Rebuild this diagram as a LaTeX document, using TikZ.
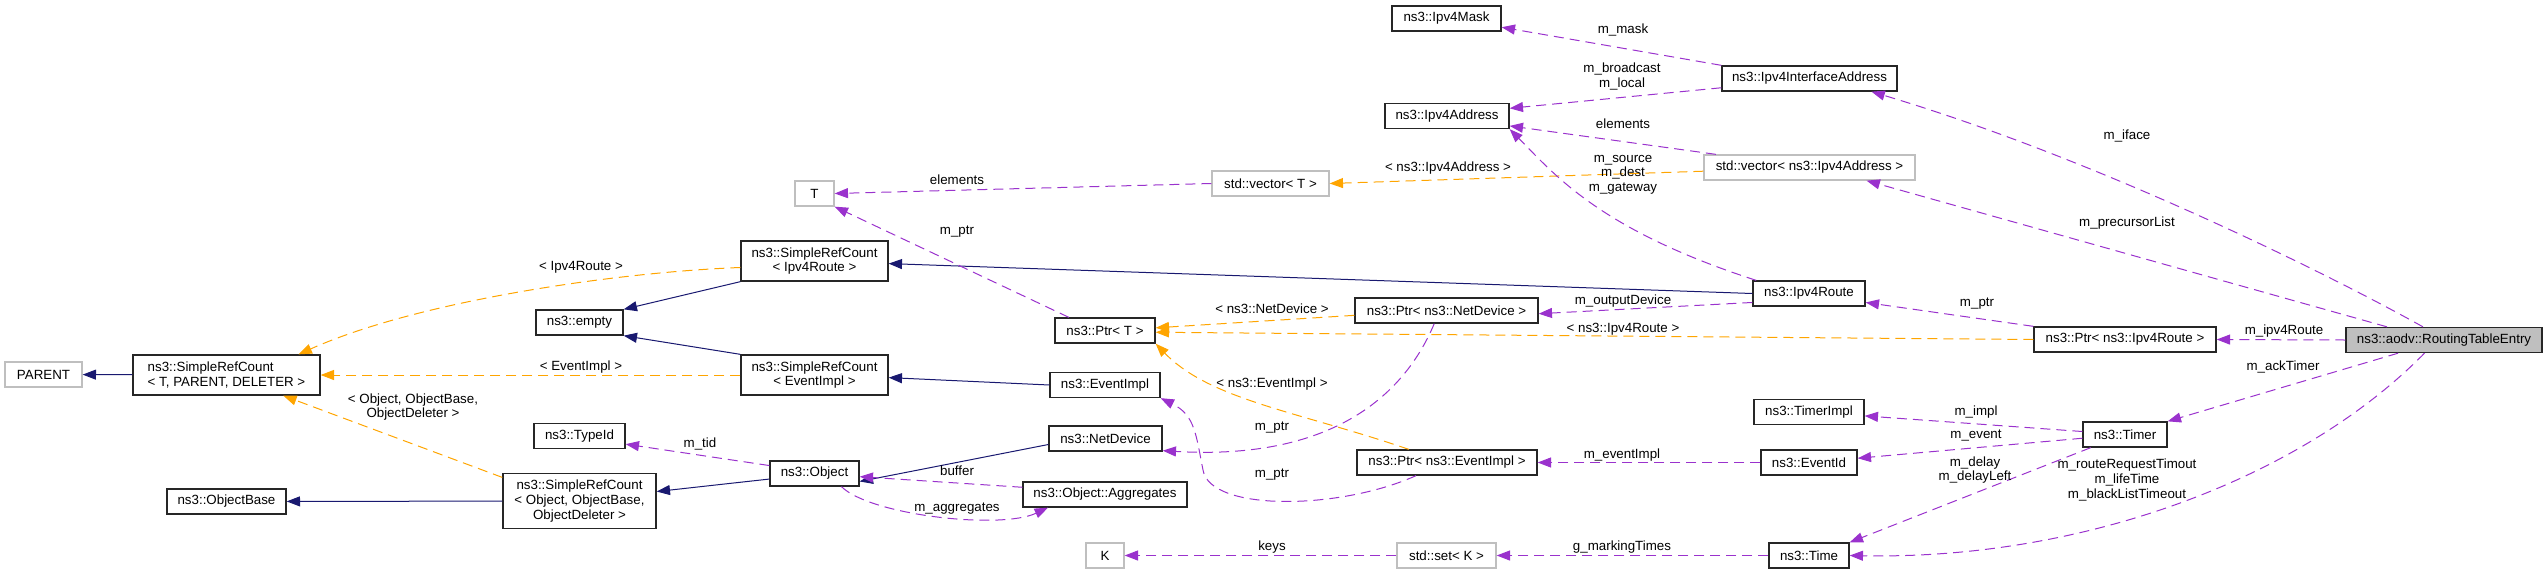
\documentclass[tikz,border=0pt]{standalone}
\usepackage{fontspec}
\setmainfont{Liberation Sans}
\usetikzlibrary{calc,arrows.meta}
\definecolor{inhcol}{HTML}{191970}
\definecolor{tplcol}{HTML}{FFA500}
\definecolor{usecol}{HTML}{9A32CD}
\definecolor{extcol}{HTML}{BFBFBF}
\tikzset{ cls/.style = { rectangle % documented class
        , draw = black!85
        , line width = 1pt
        , inner sep = 0pt
        , minimum height = 18.75pt
        , font = \fontsize{10}{11}\selectfont
        , align = center
        }
        , ext/.style = { cls % undocumented class
        , draw = extcol
        }
        , lbl/.style = { rectangle % edge label
        , inner sep = 0pt
        , font = \fontsize{10}{11}\selectfont
        , align = center
        }
        }

\begin{document}
\begin{tikzpicture}[x=0.75pt, y=-0.75pt, line width=0.75pt,
        inherit_edge_style/.style={draw=inhcol, -{Triangle[length=10pt,width=7.5pt]}},
        template_edge_style/.style={draw=tplcol, dash pattern=on 7.5pt off 4.5pt, -{Triangle[length=10pt,width=7.5pt]}},
        usage_edge_style/.style={draw=usecol, dash pattern=on 7.5pt off 4.5pt, -{Triangle[length=10pt,width=7.5pt]}}]
        \useasboundingbox (0,0) rectangle (2547,575);

        \node [ext, minimum width=57.75pt] (parent) at (43.5,374.5) {PARENT};
        \node [cls, minimum width=140.25pt, minimum height=30pt, align=left] (srcT) at (226.5,375) {ns3::SimpleRefCount\\< T, PARENT, DELETER >};
        \node [cls, minimum width=89.25pt] (objbase) at (226.5,501.5) {ns3::ObjectBase};
        \node [ext, minimum width=29.25pt] (tparam) at (814.5,193.5) {T};
        \node [cls, minimum width=110.25pt, minimum height=30pt] (srcRoute) at (814.5,261) {ns3::SimpleRefCount\\< Ipv4Route >};
        \node [cls, minimum width=65.25pt] (empty) at (579.5,322.5) {ns3::empty};
        \node [cls, minimum width=110.25pt, minimum height=30pt] (srcEvent) at (814.5,375) {ns3::SimpleRefCount\\< EventImpl >};
        \node [cls, minimum width=68.25pt] (typeid) at (579.5,436) {ns3::TypeId};
        \node [cls, minimum width=66.75pt] (object) at (814.5,473.5) {ns3::Object};
        \node [cls, minimum width=114.75pt, minimum height=41.25pt] (srcObj) at (579.5,501) {ns3::SimpleRefCount\\< Object, ObjectBase,\\ObjectDeleter >};
        \node [cls, minimum width=81.75pt] (mask) at (1446.5,18.5) {ns3::Ipv4Mask};
        \node [cls, minimum width=93pt] (addr) at (1447,116) {ns3::Ipv4Address};
        \node [ext, minimum width=87.75pt] (vecT) at (1270.5,183.5) {std::vector< T >};
        \node [cls, minimum width=75pt] (ptrT) at (1105,330.5) {ns3::Ptr< T >};
        \node [cls, minimum width=137.25pt] (ptrDev) at (1446.5,310.5) {ns3::Ptr< ns3::NetDevice >};
        \node [cls, minimum width=82.5pt] (evImpl) at (1105,385) {ns3::EventImpl};
        \node [cls, minimum width=84.75pt] (netdev) at (1105.5,438.5) {ns3::NetDevice};
        \node [cls, minimum width=123pt] (aggr) at (1105,494.5) {ns3::Object::Aggregates};
        \node [cls, minimum width=135pt] (ptrEv) at (1447,462.5) {ns3::Ptr< ns3::EventImpl >};
        \node [ext, minimum width=28.5pt] (kparam) at (1105,555.5) {K};
        \node [ext, minimum width=74.25pt] (setK) at (1446.5,555.5) {std::set< K >};
        \node [cls, minimum width=131.25pt] (ifaddr) at (1809.5,78.5) {ns3::Ipv4InterfaceAddress};
        \node [ext, minimum width=158.25pt] (vecAddr) at (1809.5,167.5) {std::vector< ns3::Ipv4Address >};
        \node [cls, minimum width=84pt] (route) at (1809,293.5) {ns3::Ipv4Route};
        \node [cls, minimum width=82.5pt] (timerImpl) at (1809,412) {ns3::TimerImpl};
        \node [cls, minimum width=72pt] (eventId) at (1809,462.5) {ns3::EventId};
        \node [cls, minimum width=60pt] (time) at (1809,555.5) {ns3::Time};
        \node [cls, minimum width=136.5pt] (ptrRoute) at (2125,339.5) {ns3::Ptr< ns3::Ipv4Route >};
        \node [cls, fill=extcol, minimum width=147pt] (entry) at (2444,340) {ns3::aodv::RoutingTableEntry};
        \node [cls, minimum width=63pt] (timer) at (2125,434.5) {ns3::Timer};

        % base classes
        \draw [inherit_edge_style] (srcT) -- (parent);
        \draw [inherit_edge_style] (srcObj) -- (objbase);
        \draw [inherit_edge_style] (srcRoute.south west) -- (empty.north east);
        \draw [inherit_edge_style] (srcEvent.north west) -- (empty.south east);
        \draw [inherit_edge_style] (object.187) -- (srcObj.7);
        \draw [inherit_edge_style] (netdev.186) -- (object.-10);
        \draw [inherit_edge_style] (route.west) -- (srcRoute.-2);
        \draw [inherit_edge_style] (evImpl.west) -- (srcEvent.-2);

        % template instances
        \draw [template_edge_style] (srcRoute.185) .. controls (620,272) and (420,300) .. (srcT.16);
        \draw [template_edge_style] (srcEvent.west) -- (srcT.east);
        \draw [template_edge_style] (srcObj.163) -- (srcT.-20);
        \draw [template_edge_style] (ptrDev.183) -- (ptrT.3);
        \draw [template_edge_style] (ptrRoute.west) -- (ptrT.-2);
        \draw [template_edge_style] (ptrEv.161) .. controls (1300,412) and (1210,400) .. (ptrT.south east);
        \draw [template_edge_style] (vecAddr.182) -- (vecT.east);

        \node [lbl] (l1) at (581,267) {< Ipv4Route >};
        \node [lbl] (l2) at (581,367) {< EventImpl >};
        \node [lbl] (l3) at (413,407) {< Object, ObjectBase,\\ObjectDeleter >};
        \node [lbl] (l4) at (1272,309) {< ns3::NetDevice >};
        \node [lbl] (l5) at (1623,329) {< ns3::Ipv4Route >};
        \node [lbl] (l6) at (1272,384) {< ns3::EventImpl >};
        \node [lbl] (l7) at (1448,168) {< ns3::Ipv4Address >};

        % members
        \draw [usage_edge_style] (vecT.west) -- (tparam.east);
        \draw [usage_edge_style] (ptrT.160) -- (tparam.south east);
        \draw [usage_edge_style] (route.166) .. controls (1600,230) and (1555,175) .. (addr.south east);
        \draw [usage_edge_style] (ifaddr.north west) -- (mask.-9);
        \draw [usage_edge_style] (ifaddr.186) -- (addr.7);
        \draw [usage_edge_style] (vecAddr.172) -- (addr.-9);
        \draw [usage_edge_style] (route.189) -- (ptrDev.-2);
        \draw [usage_edge_style] (ptrRoute.north west) -- (route.-9);
        \draw [usage_edge_style] (entry.west) -- (ptrRoute.east);
        \draw [usage_edge_style] (entry.148) .. controls (2330,275) and (2100,160) .. (ifaddr.-12);
        \draw [usage_edge_style] (entry.167) -- (vecAddr.-13);
        \draw [usage_edge_style] (entry.196) -- (timer.north east);
        \draw [usage_edge_style] (timer.176) -- (timerImpl.-4);
        \draw [usage_edge_style] (timer.185) -- (eventId.5);
        \draw [usage_edge_style] (timer.201) -- (time.north east);
        \draw [usage_edge_style] (eventId.west) -- (ptrEv.east);
        \draw [usage_edge_style] (entry.214) .. controls (2300,480) and (2080,560) .. (time.east);
        \draw [usage_edge_style] (time.west) -- (setK.east);
        \draw [usage_edge_style] (setK.west) -- (kparam.east);
        \draw [usage_edge_style] (object.170) -- (typeid.-10);
        \draw [usage_edge_style] (aggr.175) -- (object.-4);
        \draw [usage_edge_style] (object.-26) .. controls (870,515) and (1000,530) .. (aggr.193);
        \draw [usage_edge_style] (ptrDev.227) .. controls (1400,405) and (1320,460) .. (netdev.-12);
        \coordinate (crtl39) at (1203,470);
        \draw [usage_edge_style] (ptrEv.203) .. controls (1340,510) and (1210,512) .. (crtl39) .. controls (1196,435) and (1195,415) .. (evImpl.south east);

        \node [lbl] (m1) at (957,180) {elements};
        \node [lbl] (m2) at (957,232) {m\_ptr};
        \node [lbl] (m3) at (1623,174.5) {m\_source\\m\_dest\\m\_gateway};
        \node [lbl] (m4) at (1623,30) {m\_mask};
        \node [lbl] (m5) at (1622,76.5) {m\_broadcast\\m\_local};
        \node [lbl] (m6) at (1623,124) {elements};
        \node [lbl] (m7) at (1623,301) {m\_outputDevice};
        \node [lbl] (m8) at (1977,304) {m\_ptr};
        \node [lbl] (m9) at (2284,331) {m\_ipv4Route};
        \node [lbl] (m10) at (2127,136) {m\_iface};
        \node [lbl] (m11) at (2127,223) {m\_precursorList};
        \node [lbl] (m12) at (2283,367) {m\_ackTimer};
        \node [lbl] (m13) at (1976,412) {m\_impl};
        \node [lbl] (m14) at (1976,436) {m\_event};
        \node [lbl] (m15) at (1975,470) {m\_delay\\m\_delayLeft};
        \node [lbl] (m16) at (1622,455) {m\_eventImpl};
        \node [lbl] (m17) at (2127,480) {m\_routeRequestTimout\\m\_lifeTime\\m\_blackListTimeout};
        \node [lbl] (m18) at (1622,547) {g\_markingTimes};
        \node [lbl] (m19) at (1272,547) {keys};
        \node [lbl] (m20) at (700,444) {m\_tid};
        \node [lbl] (m21) at (957,471) {buffer};
        \node [lbl] (m22) at (957,509) {m\_aggregates};
        \node [lbl] (m23) at (1272,428) {m\_ptr};
        \node [lbl] (m24) at (1272,475) {m\_ptr};

\end{tikzpicture}
\end{document}
